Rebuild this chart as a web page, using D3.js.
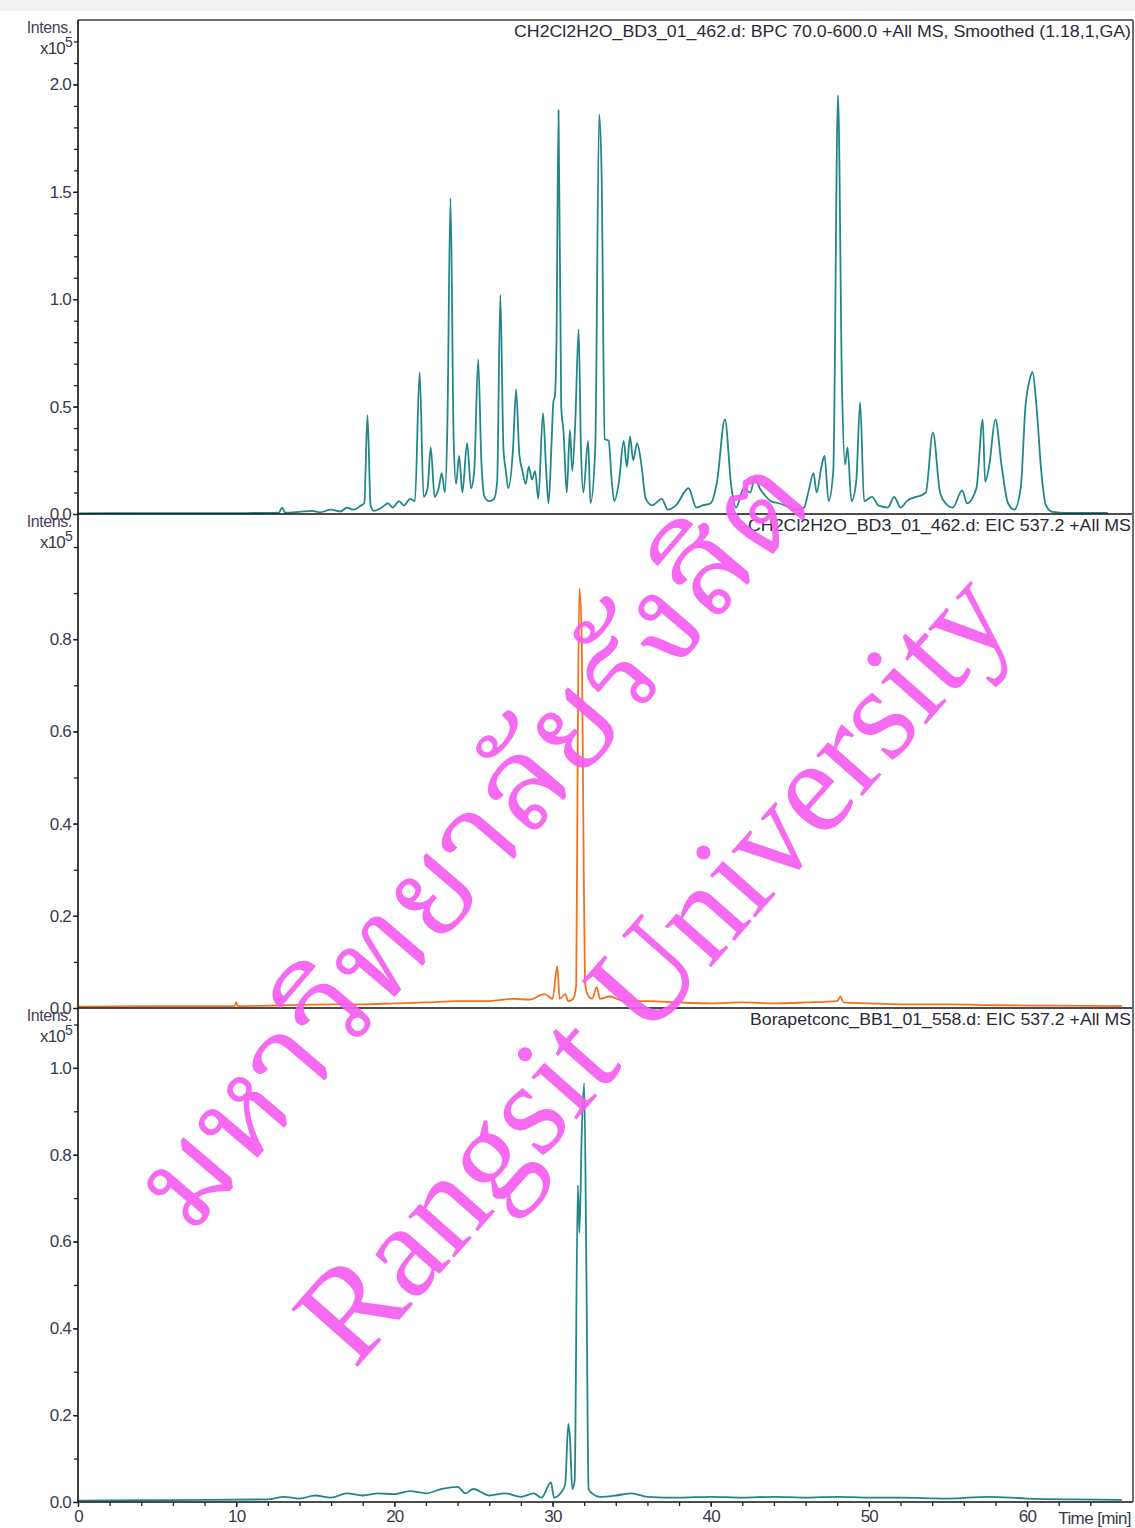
<!DOCTYPE html>
<html>
<head>
<meta charset="utf-8">
<script src="https://cdn.jsdelivr.net/npm/d3@7"></script>
<style>
  html, body { margin: 0; padding: 0; background: #fff; }
  #chart svg { display: block; }
</style>
</head>
<body>
<div id="chart"></div>
<script>
'use strict'

////////////////////////////////////
/////////////// data ///////////////
////////////////////////////////////

const timeTicks = [0, 10, 20, 30, 40, 50, 60]
const bpcTicks = [0.0, 0.5, 1.0, 1.5, 2.0]
const eicTicks = [0.0, 0.2, 0.4, 0.6, 0.8]
const borapetTicks = [0.0, 0.2, 0.4, 0.6, 0.8, 1.0]

const panelTitles = [
    'CH2Cl2H2O_BD3_01_462.d: BPC 70.0-600.0 +All MS, Smoothed (1.18,1,GA)',
    'CH2Cl2H2O_BD3_01_462.d: EIC 537.2 +All MS',
    'Borapetconc_BB1_01_558.d: EIC 537.2 +All MS'
]

// [time (min), intensity (x10^5)]
const bpcTrace = [
    [0, 0.003], [4, 0.004], [8, 0.004], [12, 0.005], [12.7, 0.006], [12.9, 0.03], [13.1, 0.006],
    [14, 0.01], [14.8, 0.015], [15.3, 0.008], [16, 0.02], [16.6, 0.012], [17.0, 0.03], [17.4, 0.02],
    [17.9, 0.04], [18.1, 0.05], [18.3, 0.46], [18.5, 0.04], [18.7, 0.015], [19.2, 0.03], [19.6, 0.05],
    [19.9, 0.03], [20.3, 0.06], [20.6, 0.04], [21.0, 0.07], [21.3, 0.06], [21.6, 0.66], [21.85, 0.08],
    [22.1, 0.12], [22.3, 0.31], [22.55, 0.08], [22.8, 0.12], [23.0, 0.19], [23.2, 0.1], [23.35, 0.4],
    [23.55, 1.47], [23.75, 0.35], [23.9, 0.14], [24.1, 0.27], [24.3, 0.1], [24.6, 0.33], [24.85, 0.12],
    [25.05, 0.2], [25.3, 0.72], [25.5, 0.25], [25.7, 0.08], [26.0, 0.06], [26.3, 0.07], [26.5, 0.15],
    [26.7, 1.02], [26.9, 0.3], [27.05, 0.2], [27.2, 0.12], [27.5, 0.3], [27.7, 0.58], [27.9, 0.28],
    [28.1, 0.2], [28.3, 0.14], [28.5, 0.22], [28.7, 0.16], [28.9, 0.2], [29.1, 0.07], [29.4, 0.47],
    [29.6, 0.2], [29.75, 0.05], [29.95, 0.35], [30.05, 0.52], [30.15, 0.55], [30.25, 0.8], [30.38, 1.88],
    [30.55, 0.5], [30.7, 0.38], [30.9, 0.1], [31.1, 0.39], [31.25, 0.2], [31.45, 0.45], [31.65, 0.86],
    [31.8, 0.3], [31.95, 0.1], [32.25, 0.34], [32.4, 0.05], [32.7, 0.3], [32.95, 1.86], [33.1, 1.6],
    [33.3, 0.35], [33.55, 0.34], [33.75, 0.15], [33.9, 0.06], [34.2, 0.15], [34.5, 0.34], [34.7, 0.22],
    [34.9, 0.36], [35.1, 0.25], [35.35, 0.33], [35.6, 0.24], [35.9, 0.07], [36.3, 0.04], [36.9, 0.07],
    [37.3, 0.02], [37.8, 0.04], [38.6, 0.12], [39.1, 0.03], [39.5, 0.04], [40.0, 0.05], [40.4, 0.15],
    [40.9, 0.44], [41.3, 0.13], [41.6, 0.03], [42.1, 0.12], [42.5, 0.1], [42.8, 0.17], [43.1, 0.12],
    [43.4, 0.09], [43.8, 0.06], [44.3, 0.05], [44.7, 0.04], [45.3, 0.02], [45.9, 0.03], [46.2, 0.11],
    [46.5, 0.19], [46.7, 0.1], [47.0, 0.22], [47.2, 0.27], [47.45, 0.06], [47.75, 0.2], [48.05, 1.95],
    [48.3, 0.6], [48.5, 0.23], [48.65, 0.31], [48.9, 0.06], [49.2, 0.15], [49.45, 0.52], [49.7, 0.06],
    [50.2, 0.08], [50.6, 0.04], [51.2, 0.03], [51.6, 0.08], [52.0, 0.03], [52.4, 0.06], [53.6, 0.1],
    [54.05, 0.38], [54.5, 0.1], [54.85, 0.05], [55.3, 0.03], [55.9, 0.11], [56.2, 0.05], [56.8, 0.12],
    [57.2, 0.44], [57.35, 0.15], [57.6, 0.22], [58.0, 0.44], [58.4, 0.22], [58.8, 0.05], [59.2, 0.02],
    [59.6, 0.12], [59.9, 0.5], [60.15, 0.62], [60.35, 0.66], [60.6, 0.5], [60.9, 0.2], [61.2, 0.04],
    [61.6, 0.01], [62.5, 0.005], [65.1, 0.005]
]

const eicTrace = [
    [0, 0.003], [5, 0.004], [9.9, 0.004], [10.0, 0.012], [10.1, 0.004], [13, 0.006], [16, 0.008],
    [18, 0.008], [20, 0.01], [22, 0.012], [24, 0.015], [26, 0.015], [27.5, 0.02], [28.5, 0.018],
    [29.5, 0.03], [30.0, 0.02], [30.3, 0.09], [30.45, 0.02], [30.8, 0.03], [31.0, 0.015], [31.3, 0.02],
    [31.5, 0.05], [31.6, 0.6], [31.7, 0.91], [31.85, 0.8], [31.95, 0.4], [32.05, 0.06], [32.2, 0.03],
    [32.5, 0.02], [32.8, 0.045], [33.0, 0.02], [33.6, 0.025], [34.5, 0.015], [36, 0.015], [38, 0.012],
    [40, 0.01], [42, 0.012], [44, 0.01], [46, 0.012], [48.0, 0.015], [48.2, 0.025], [48.4, 0.012],
    [50, 0.01], [52, 0.008], [55, 0.008], [58, 0.006], [62, 0.005], [66, 0.004]
]

const borapetTrace = [
    [0, 0.003], [4, 0.004], [8, 0.005], [12, 0.006], [13, 0.012], [14, 0.008], [15, 0.015], [16, 0.01],
    [17, 0.02], [18, 0.015], [19, 0.02], [20, 0.018], [21, 0.025], [22, 0.02], [23, 0.03], [24, 0.035],
    [24.5, 0.02], [25, 0.03], [26, 0.015], [27, 0.02], [28, 0.012], [28.8, 0.02], [29.3, 0.01],
    [29.9, 0.045], [30.1, 0.01], [30.5, 0.02], [30.8, 0.04], [31.0, 0.18], [31.1, 0.15], [31.25, 0.03],
    [31.4, 0.05], [31.6, 0.73], [31.7, 0.62], [31.85, 0.85], [32.0, 0.965], [32.15, 0.5], [32.28, 0.03],
    [32.5, 0.02], [33, 0.012], [34, 0.015], [35, 0.02], [36, 0.012], [38, 0.01], [40, 0.012], [42, 0.01],
    [44, 0.012], [46, 0.01], [48, 0.012], [50, 0.01], [52, 0.01], [55, 0.008], [57.5, 0.012], [60, 0.008],
    [63, 0.006], [66, 0.005]
]

const watermarkThai = 'มหาวิทยาลัยรังสิต'
const watermarkLatin = 'Rangsit University'

let chromatogram = ((selector = '#chart') => {

    ////////////////////////////////////
    //////////// svg setup /////////////
    ////////////////////////////////////

    const svgWidth = 1135
    const svgHeight = 1528
    const margin = { left: 78, right: 2, top: 20, bottom: 26 }
    const width = svgWidth - margin.left - margin.right
    const panelHeight = (svgHeight - margin.top - margin.bottom) / 3
    const sans = '"Liberation Sans", Arial, sans-serif'
    const inkColor = '#3a3a4a'

    const body = d3.select(selector)
    body.html('')

    const svg = body.append('svg')
        .attr('width', svgWidth)
        .attr('height', svgHeight)
        .attr('viewBox', `0 0 ${svgWidth} ${svgHeight}`)
        .style('font-family', sans)

    svg.append('rect')
        .attr('width', svgWidth)
        .attr('height', 11)
        .attr('fill', '#f2f2f2')

    const x = d3.scaleLinear()
        .domain([0, 66.7])
        .range([margin.left, margin.left + width])

    const panels = [
        { title: panelTitles[0], titleWidth: 617, trace: bpcTrace, ticks: bpcTicks, yMax: 2.3, color: '#23878a' },
        { title: panelTitles[1], titleWidth: 383, trace: eicTrace, ticks: eicTicks, yMax: 1.0716, color: '#f7701c' },
        { title: panelTitles[2], titleWidth: 381, trace: borapetTrace, ticks: borapetTicks, yMax: 1.138, color: '#23878a' }
    ]

    const styleTickText = a => a.selectAll('text')
        .attr('font-size', 17)
        .attr('font-family', null)
        .attr('fill', inkColor)
        .style('letter-spacing', '-0.8px')

    ////////////////////////////////////
    ////////////// panels //////////////
    ////////////////////////////////////

    panels.forEach((p, i) => {
        const top = margin.top + i * panelHeight
        const y = d3.scaleLinear()
            .domain([0, p.yMax])
            .range([top + panelHeight, top])

        const g = svg.append('g')

        // minor ticks every 0.1
        g.append('g')
            .attr('transform', `translate(${margin.left},0)`)
            .call(d3.axisLeft(y).tickValues(d3.range(0, p.yMax, 0.1)).tickSize(4).tickFormat(''))
            .call(a => a.select('.domain').remove())
            .call(a => a.selectAll('line').attr('stroke', '#222').attr('stroke-width', 1.3))

        g.append('g')
            .attr('transform', `translate(${margin.left},0)`)
            .call(d3.axisLeft(y).tickValues(p.ticks).tickSize(5).tickPadding(2).tickFormat(d3.format('.1f')))
            .call(a => a.select('.domain').remove())
            .call(a => a.selectAll('line').attr('stroke', '#222').attr('stroke-width', 1.3))
            .call(styleTickText)

        const line = d3.line()
            .x(d => x(d[0]))
            .y(d => y(d[1]))
            .curve(d3.curveMonotoneX)

        g.append('path')
            .datum(p.trace)
            .attr('fill', 'none')
            .attr('stroke', p.color)
            .attr('stroke-width', 1.8)
            .attr('stroke-linejoin', 'round')
            .attr('d', line)

        // baseline of the panel
        g.append('line')
            .attr('x1', margin.left).attr('x2', margin.left + width)
            .attr('y1', y(0)).attr('y2', y(0))
            .attr('stroke', '#111')
            .attr('stroke-width', 1.5)

        g.append('text')
            .attr('x', margin.left + width - 2)
            .attr('y', top + 17)
            .attr('text-anchor', 'end')
            .attr('font-size', 17)
            .attr('fill', '#2a2a36')
            .attr('textLength', p.titleWidth)
            .attr('lengthAdjust', 'spacingAndGlyphs')
            .text(p.title)

        g.append('text')
            .attr('x', 72)
            .attr('y', top + 13)
            .attr('text-anchor', 'end')
            .attr('font-size', 16)
            .attr('fill', '#4a3f5a')
            .style('letter-spacing', '-0.4px')
            .text('Intens.')

        const unit = g.append('text')
            .attr('x', 72)
            .attr('y', top + 34)
            .attr('text-anchor', 'end')
            .attr('font-size', 17)
            .attr('fill', inkColor)
            .style('letter-spacing', '-0.8px')
        unit.append('tspan').text('x10')
        unit.append('tspan').attr('dy', -7).attr('font-size', 14).text('5')
    })

    ////////////////////////////////////
    ///////////// frame / x ////////////
    ////////////////////////////////////

    const plotBottom = margin.top + 3 * panelHeight

    svg.append('line')
        .attr('x1', margin.left).attr('x2', margin.left + width)
        .attr('y1', margin.top).attr('y2', margin.top)
        .attr('stroke', '#6d6d6d').attr('stroke-width', 2)

    svg.append('line')
        .attr('x1', margin.left + width).attr('x2', margin.left + width)
        .attr('y1', margin.top).attr('y2', plotBottom)
        .attr('stroke', '#6d6d6d').attr('stroke-width', 2)

    svg.append('line')
        .attr('x1', margin.left).attr('x2', margin.left)
        .attr('y1', margin.top).attr('y2', plotBottom + 1)
        .attr('stroke', '#111').attr('stroke-width', 1.6)

    svg.append('g')
        .attr('transform', `translate(0,${plotBottom})`)
        .call(d3.axisBottom(x).tickValues(d3.range(0, 66, 2)).tickSize(4).tickFormat(''))
        .call(a => a.select('.domain').remove())
        .call(a => a.selectAll('line').attr('stroke', '#222').attr('stroke-width', 1.3))

    svg.append('g')
        .attr('transform', `translate(0,${plotBottom})`)
        .call(d3.axisBottom(x).tickValues(timeTicks).tickSize(5).tickPadding(3).tickFormat(d3.format('d')))
        .call(a => a.select('.domain').remove())
        .call(a => a.selectAll('line').attr('stroke', '#222').attr('stroke-width', 1.3))
        .call(styleTickText)

    svg.append('text')
        .attr('x', margin.left + width - 2)
        .attr('y', plotBottom + 22)
        .attr('text-anchor', 'end')
        .attr('font-size', 17)
        .attr('fill', inkColor)
        .style('letter-spacing', '-0.6px')
        .text('Time [min]')

    ////////////////////////////////////
    //////////// watermark /////////////
    ////////////////////////////////////

    const mark = svg.append('g')
        .attr('fill', '#f55cf0')
        .attr('fill-opacity', 0.92)
        .attr('pointer-events', 'none')

    mark.append('text')
        .attr('transform', 'translate(478,848) rotate(-49.5)')
        .attr('text-anchor', 'middle')
        .attr('dominant-baseline', 'central')
        .style('font-family', '"Noto Serif Thai", "Noto Sans Thai", "Loma", "Garuda", "Tlwg Typo", serif')
        .attr('font-size', 126)
        .attr('textLength', 965)
        .attr('lengthAdjust', 'spacingAndGlyphs')
        .text(watermarkThai)

    mark.append('text')
        .attr('transform', 'translate(652,966) rotate(-48.5)')
        .attr('text-anchor', 'middle')
        .attr('dominant-baseline', 'central')
        .style('font-family', '"Liberation Serif", "DejaVu Serif", serif')
        .attr('font-size', 134)
        .attr('textLength', 1000)
        .attr('lengthAdjust', 'spacingAndGlyphs')
        .text(watermarkLatin)

})()
</script>
</body>
</html>
